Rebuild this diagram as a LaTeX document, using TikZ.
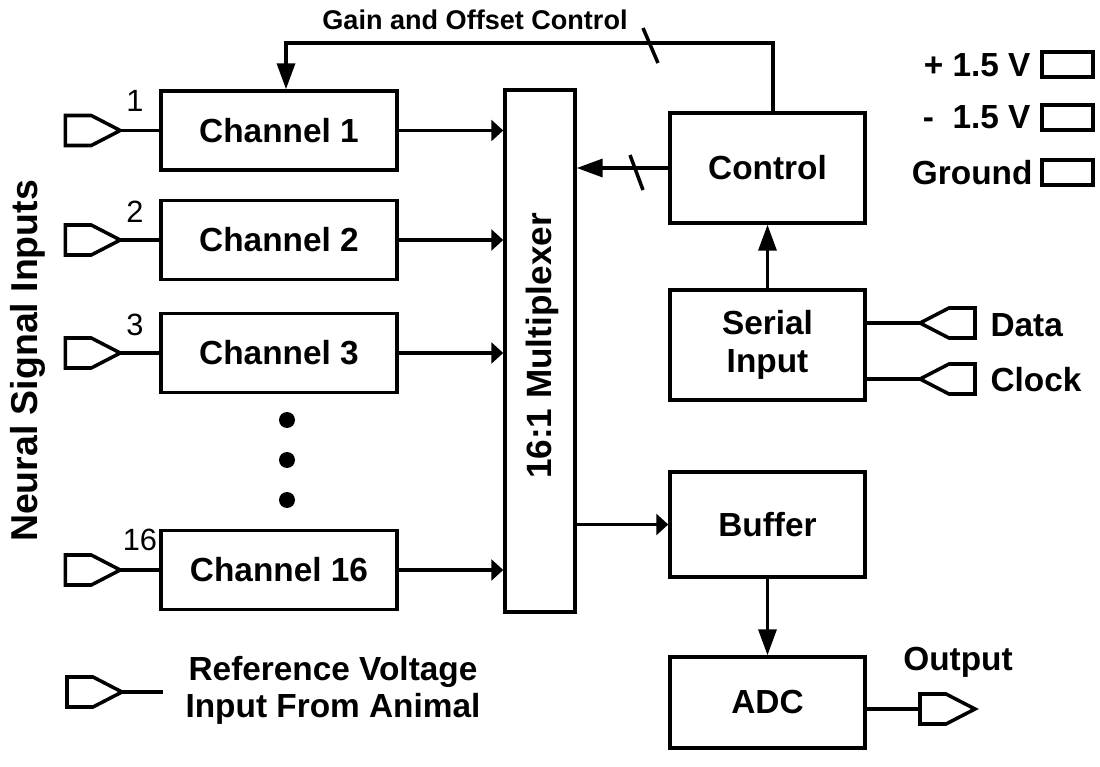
\documentclass[tikz,border=0pt]{standalone}
\usepackage{fontspec}
\setmainfont{Liberation Sans}
\usepackage{tikz}
\usetikzlibrary{positioning,arrows.meta,calc}
\newcommand\boxfont{\fontsize{19}{22}\selectfont\bfseries}

\begin{document}
\begin{tikzpicture}[x=0.02cm, y=-0.02cm, line width=2pt,
  node distance=0.6cm and 2cm,
  box/.style={draw, line width=2pt, align=center, font=\boxfont, minimum width=#1, inner sep=2pt},
  box/.default=4.72cm,
  arr/.style={-{Triangle[length=0.24cm, width=0.42cm]}},
  larr/.style={-{Triangle[length=0.52cm, width=0.36cm]}},
  lab/.style={font=\boxfont, inner sep=1pt},
  num/.style={font=\fontsize{17.5}{20}\selectfont, inner sep=1pt},
  supbox/.style={draw, line width=2pt, minimum width=1.02cm, minimum height=0.5cm, inner sep=0pt},
  pinin/.pic={\draw (0,0) -- (-29,-15) -- (-55,-15) -- (-55,15) -- (-29,15) -- cycle;}]
  \useasboundingbox (0,0) rectangle (1100,767);
  \node[box, minimum height=1.58cm] (ch1) at (279,130.5) {Channel 1};
  \node[box, minimum height=1.58cm] (ch2) at (279,240) {Channel 2};
  \node[box, minimum height=1.58cm] (ch3) at (279,353) {Channel 3};
  \node[box, minimum height=1.58cm] (ch16) at (279,570) {Channel 16};
  \node[box=1.4cm, minimum height=10.44cm] (mux) at (540,351) {};
  \node[rotate=90, font=\fontsize{20}{22}\selectfont\bfseries] (muxlab) at (542,346) {16:1 Multiplexer};
  \node[box=3.9cm, minimum height=2.2cm] (ctrl) at (767.5,168) {Control};
  \node[box=3.9cm, minimum height=2.2cm] (ser) at (767.5,345) {Serial\\Input};
  \node[box=3.9cm, minimum height=2.1cm] (buf) at (767.5,524.5) {Buffer};
  \node[box=3.9cm, minimum height=1.82cm] (adc) at (767.5,702.5) {ADC};
  \node[rotate=90, font=\fontsize{21.3}{24}\selectfont\bfseries] (nsi) at (28,361) {Neural Signal Inputs};
  % input pins
  \foreach \c/\n in {ch1/1, ch2/2, ch3/3, ch16/16} {
    \coordinate (p\n) at ($(\c.west)+(-39,0)$);
    \pic at (p\n) {pinin};
    \draw (p\n) -- (\c.west);
    \draw[arr] (\c.east) -- (\c.east -| mux.west);
  }
  \node[num] (n1) at (135,101) {1};
  \node[num] (n2) at (135,212) {2};
  \node[num] (n3) at (135,325) {3};
  \node[num] (n16) at (140,540) {16};
  \foreach \y in {420,460,500} \fill (287,\y) circle[radius=0.16cm];
  % reference input
  \coordinate (pref) at (122,692);
  \coordinate (refend) at (163,692);
  \pic at (pref) {pinin};
  \draw (pref) -- (refend);
  \node[lab, align=center, font=\fontsize{19}{21}\selectfont\bfseries] (reflab) at (333,690) {Reference Voltage\\Input From Animal};
  % control paths
  \draw[larr] (ctrl.west) -- (ctrl.west -| mux.east);
  \coordinate (s1) at (636.5,172.5);
  \draw ($(s1)+(-6.5,-17.5)$) -- ($(s1)+(6.5,17.5)$);
  \coordinate (gtop) at (773,43);
  \coordinate (gleft) at (286,43);
  \draw[larr] (ctrl.north -| gtop) -- (gtop) -- (gleft) -- (gleft |- ch1.north);
  \coordinate (s2) at (650.5,45.5);
  \draw ($(s2)+(-7.5,-17.5)$) -- ($(s2)+(7.5,17.5)$);
  \node[font=\fontsize{15.4}{18}\selectfont\bfseries] (gain) at (475,20) {Gain and Offset Control};
  \draw[larr] (ser.north) -- (ctrl.south);
  % serial pins
  \coordinate (dpin) at (920,323);
  \coordinate (cpin) at (920,379);
  \draw (ser.east |- dpin) -- (dpin);
  \draw (ser.east |- cpin) -- (cpin);
  \pic[rotate=180] at (dpin) {pinin};
  \pic[rotate=180] at (cpin) {pinin};
  \node[lab, anchor=west] (data) at (987,325) {Data};
  \node[lab, anchor=west] (clk) at (987,380) {Clock};
  % output
  \draw[arr] (mux.east |- buf.west) -- (buf.west);
  \draw[larr] (buf.south) -- (adc.north);
  \coordinate (opin) at (975,709);
  \coordinate (oend) at (920,709);
  \draw (adc.east |- oend) -- (oend);
  \pic at (opin) {pinin};
  \node[lab] (out) at (958,662) {Output};
  % supply
  \node[supbox] (vp) at (1067.5,64.5) {};
  \node[supbox] (vn) at (1067.5,117.5) {};
  \node[supbox] (gnd) at (1067.5,172.5) {};
  \node[lab, anchor=east] (vplab) at (1034,65) {+ 1.5 V};
  \node[lab, anchor=east] (vnlab) at (1034,117) {-\ \ 1.5 V};
  \node[lab, anchor=east] (gndlab) at (1036,173) {Ground};
\end{tikzpicture}
\end{document}
